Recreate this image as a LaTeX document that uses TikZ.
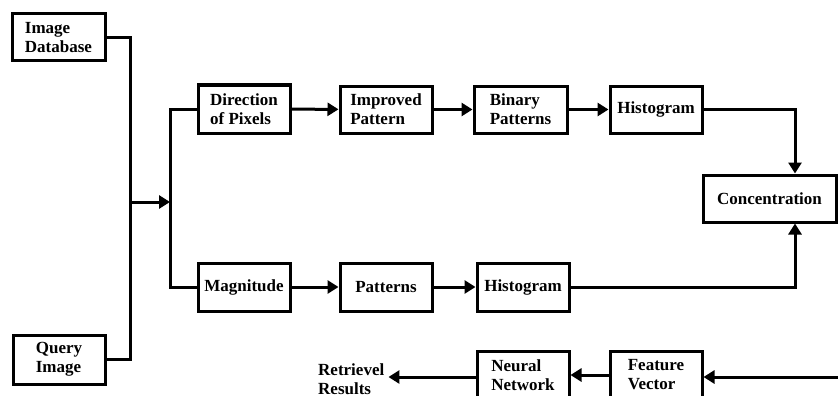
\documentclass[tikz,border=0pt]{standalone}
\usepackage{fontspec}
\setmainfont{Liberation Serif}
\usetikzlibrary{arrows.meta}
\tikzset{blk/.style={draw,line width=3pt,minimum width=92pt,minimum height=47pt,inner sep=0pt,align=left,font=\bfseries\fontsize{17}{19}\selectfont},
con/.style={line width=3pt},
arr/.style={line width=3pt,-{Triangle[length=11pt,width=13pt]}}}
\begin{document}
\begin{tikzpicture}[x=1pt,y=-1pt]
\useasboundingbox (0,0) rectangle (838,396);
\clip (0,0) rectangle (838,396);
\node[blk,minimum width=93pt] (db) at (58.5,37.5) {Image\\Database};
\node[blk,minimum height=49pt] (query) at (59,359.5) {Query\\Image};
\node[blk,minimum height=48pt] (dir) at (244,109) {Direction\\of Pixels};
\node[blk] (impr) at (386,109.5) {Improved\\Pattern};
\node[blk,minimum width=93pt] (bin) at (520.5,109.5) {Binary\\Patterns};
\node[blk] (histA) at (656,109.5) {Histogram};
\node[blk,minimum width=133pt] (conc) at (769.5,198.5) {Concentration};
\node[blk,minimum height=48pt] (mag) at (244,287) {Magnitude};
\node[blk,minimum height=48pt] (pat) at (386,287) {Patterns};
\node[blk,minimum height=48pt] (histB) at (523,287) {Histogram};
\node[blk,minimum height=48pt] (feat) at (656,375) {Feature\\Vector};
\node[blk,minimum height=48pt] (nn) at (523,375) {Neural\\Network};
\node[align=left,inner sep=0pt,anchor=west,font=\bfseries\fontsize{17}{19}\selectfont] (res) at (318,379) {Retrievel\\Results};
\coordinate (j1) at (130,202);
\coordinate (j2) at (170,202);
\coordinate (fvin) at (845,377);
% inputs
\draw[con] (db.east) -| (j1) |- (query.east);
\draw[arr] (j1) -- (j2);
\draw[con] (dir.west) -| (j2) |- (mag.west);
% direction branch
\draw[arr] (dir) -- (impr);
\draw[arr] (impr) -- (bin);
\draw[arr] (bin) -- (histA);
\draw[arr] (histA.east) -| ([xshift=25.5pt]conc.north);
% magnitude branch
\draw[arr] (mag) -- (pat);
\draw[arr] (pat) -- (histB);
\draw[arr] (histB.east) -| ([xshift=25.5pt]conc.south);
% retrieval
\draw[arr] (fvin) -- (fvin -| feat.east);
\draw[arr] (feat) -- (nn);
\draw[arr] (nn.west |- fvin) -- ([xshift=4pt]res.north east |- fvin);
\end{tikzpicture}
\end{document}
